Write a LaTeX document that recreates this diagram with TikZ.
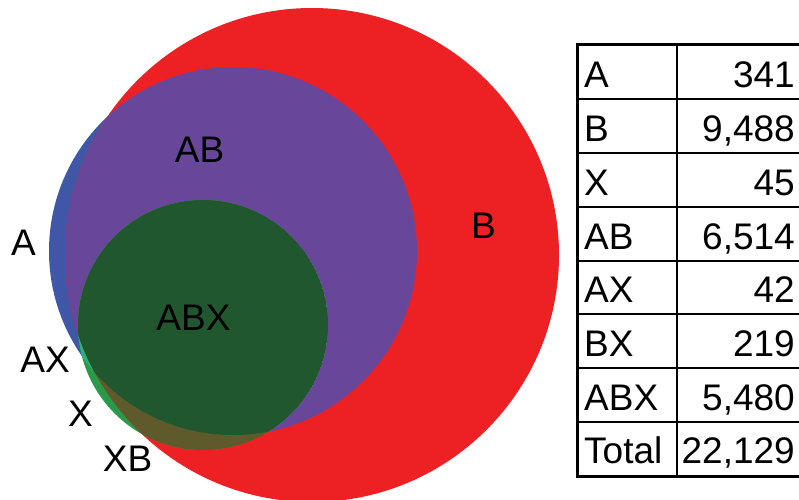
\documentclass[tikz,border=0pt]{standalone}
\usepackage{fontspec}
\setmainfont{Liberation Sans}
\definecolor{Bred}{HTML}{ED2024}
\definecolor{Ablue}{HTML}{3F57A6}
\definecolor{ABpurple}{HTML}{68479A}
\definecolor{ABXgreen}{HTML}{21572F}
\definecolor{Xgreen}{HTML}{2A9A4A}
\definecolor{AXgreen}{HTML}{2EAE78}
\definecolor{XBolive}{HTML}{5F5A2B}
\begin{document}
\begin{tikzpicture}[x=1pt,y=-1pt,
  lbl/.style={inner sep=0pt,font=\fontsize{37}{44}\selectfont},
  outer/.style={line width=3pt},
  inner/.style={line width=1.8pt}]
\useasboundingbox (0,0) rectangle (799,499);
% circle centres
\coordinate (cA) at (233,251);
\coordinate (cB) at (312,255);
\coordinate (cX) at (203,325);
% sets A and B, with their overlap
\fill[Ablue] (cA) circle[radius=184pt];
\fill[Bred] (cB) circle[radius=247pt];
\begin{scope}
  \clip (cA) circle[radius=184pt];
  \fill[ABpurple] (cB) circle[radius=247pt];
\end{scope}
% set X and its overlaps
\fill[Xgreen] (cX) circle[radius=125pt];
\begin{scope}
  \clip (cX) circle[radius=125pt];
  \begin{scope}
    \clip (cA) circle[radius=184pt];
    \fill[AXgreen] (cX) circle[radius=125pt];
  \end{scope}
  \begin{scope}
    \clip (cB) circle[radius=247pt];
    \fill[XBolive] (cX) circle[radius=125pt];
  \end{scope}
  \begin{scope}
    \clip (cA) circle[radius=184pt];
    \clip (cB) circle[radius=247pt];
    \fill[ABXgreen] (cX) circle[radius=125pt];
  \end{scope}
\end{scope}
% region labels
\node[lbl,anchor=base] (lA) at (23.5,255) {A};
\node[lbl,anchor=base] (lAB) at (199.5,162) {AB};
\node[lbl,anchor=base] (lABX) at (193.5,330) {ABX};
\node[lbl,anchor=base] (lB) at (483.5,238) {B};
\node[lbl,anchor=base] (lAX) at (45,372.5) {AX};
\node[lbl,anchor=base] (lX) at (80.5,426.5) {X};
\node[lbl,anchor=base] (lXB) at (127.5,471.5) {XB};
% table of counts
\coordinate (tl) at (577,44);
\coordinate (tr) at (801,44);
\coordinate (bl) at (577,476);
\coordinate (br) at (801,476);
\coordinate (dt) at (677,44);
\coordinate (db) at (677,476);
\foreach \y in {99,153,207,261,314,368,422} {
  \draw[inner] (577,\y) -- (801,\y);
}
\draw[inner] (dt) -- (db);
\draw[outer] (tr) -- (tl) -- (bl) -- (br);
\foreach \n/\k/\v/\yb in {r1/A/341/87.5, r2/B/9{,}488/141.5, r3/X/45/195.5,
  r4/AB/6{,}514/249.5, r5/AX/42/302, r6/BX/219/356, r7/ABX/5{,}480/410,
  r8/Total/22{,}129/463} {
  \node[lbl,anchor=base west] (\n k) at (584,\yb) {\k};
  \node[lbl,anchor=base east] (\n v) at (795,\yb) {\v};
}
\end{tikzpicture}
\end{document}
